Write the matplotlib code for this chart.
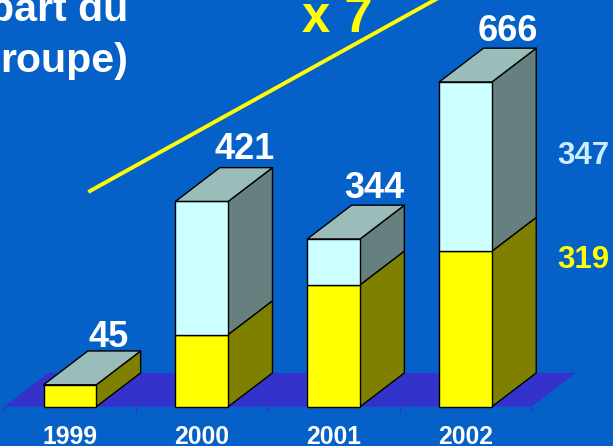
import matplotlib
matplotlib.use("Agg")
import matplotlib.pyplot as plt
from matplotlib.patches import Polygon
from matplotlib.transforms import Affine2D

years = ["1999", "2000", "2001", "2002"]
yellow_values = [45, 148, 250, 319]
light_values = [0, 273, 94, 347]
growth_label = "x 7"
title_lines = ["part du", "roupe)"]

W, H = 613, 446
BG = "#0560C8"
plt.rcParams["font.family"] = ["Liberation Sans", "DejaVu Sans"]
plt.rcParams["font.weight"] = "bold"

fig = plt.figure(figsize=(W / 100, H / 100), dpi=100, facecolor=BG)
ax = fig.add_axes([4 / W, 1 - 406.7 / H, 527.5 / W, 406.7 / H])
ax.patch.set_visible(False)
ax.set_xlim(0, 4)
ax.set_ylim(0, 406.7 / 0.4876)
for s in ax.spines.values():
    s.set_visible(False)
ax.set_yticks([])
ax.set_xticks(range(5))
ax.set_xticklabels([])
ax.tick_params(axis="x", which="major", length=4, width=1, color="#3333CC")
ax.set_xticks([i + 0.5 for i in range(4)], minor=True)
ax.set_xticklabels(years, minor=True, fontsize=17.8, color="white", fontweight="bold")
ax.tick_params(axis="x", which="minor", length=0, pad=13.5)

DX, DY = 0.336, 69.3
BAR = 0.4


def poly(pts, fc, ec="black", z=2):
    ax.add_patch(Polygon(pts, closed=True, facecolor=fc, edgecolor=ec,
                         linewidth=1.0, clip_on=False, zorder=z, joinstyle="round"))


poly([(0, 0), (4, 0), (4 + DX, DY), (DX, DY)], "#3333CC", ec="none", z=1)


def segment(x, y0, y1, front, side):
    l, r = x - BAR / 2, x + BAR / 2
    poly([(r, y0), (r + DX, y0 + DY), (r + DX, y1 + DY), (r, y1)], side)
    poly([(l, y0), (r, y0), (r, y1), (l, y1)], front)


for i, (a, b) in enumerate(zip(yellow_values, light_values)):
    x = i + 0.5
    segment(x, 0, a, "#FFFF00", "#808000")
    if b:
        segment(x, a, a + b, "#CCFFFF", "#668080")
    t = a + b
    l, r = x - BAR / 2, x + BAR / 2
    poly([(l, t), (r, t), (r + DX, t + DY), (l + DX, t + DY)], "#9ABDBA")

px = Affine2D().scale(1 / W, -1 / H).translate(0, 1) + fig.transFigure


def label(x, y, s, size, color, ha="center"):
    fig.text(x, y, s, transform=px, fontsize=size, color=color, ha=ha, va="baseline",
             fontweight="bold", clip_on=True)


totals = [a + b for a, b in zip(yellow_values, light_values)]
lx = [109, 245, 374, 508]
ly = [347, 159, 198, 41]
for x, y, t in zip(lx, ly, totals):
    label(x, y, str(t), 26, "white")

label(583, 164, str(light_values[-1]), 22.5, "#CCECFF")
label(583, 268, str(yellow_values[-1]), 22.5, "#FFFF00")
label(337, 32, growth_label, 36.5, "#FFFF00")
label(128, 21, title_lines[0], 29.6, "white", ha="right")
label(128, 72, title_lines[1], 29.6, "white", ha="right")

fig.add_artist(plt.Line2D([90, 440], [191, -3], transform=px, color="#FFFF00", linewidth=2.8))

fig.savefig("out.png", dpi=100, facecolor=BG)
